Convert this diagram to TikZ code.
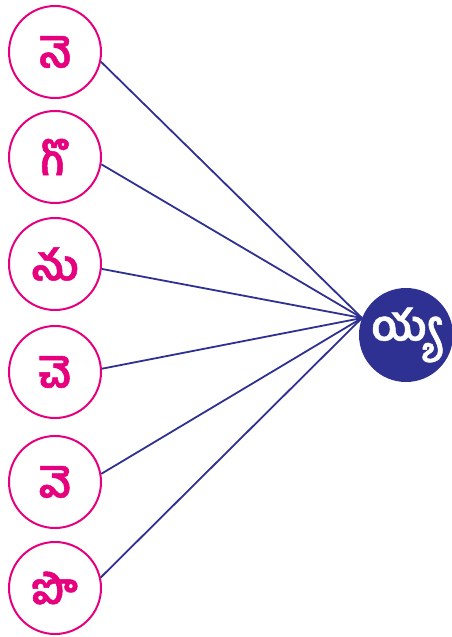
\documentclass[tikz,border=0pt]{standalone}
\usepackage{fontspec}
\newfontfamily\telugu[Script=Telugu,FakeBold=1.2]{Hind Guntur}
\definecolor{pinkc}{HTML}{E6007E}
\definecolor{bluec}{HTML}{2E3192}
\begin{document}
\begin{tikzpicture}[x=1pt,y=-1pt,
  letter/.style={circle,draw=pinkc,line width=2pt,fill=white,minimum size=92pt,inner sep=0pt,text=pinkc,font=\telugu\fontsize{42}{42}\selectfont\bfseries},
  hubnode/.style={circle,fill=bluec,minimum size=94pt,inner sep=0pt,text=white,font=\telugu\fontsize{42}{42}\selectfont\bfseries},
  link/.style={draw=bluec,line width=1.8pt}]
\useasboundingbox (0,0) rectangle (452,637);
\node[hubnode] (hub) at (406,335) {య్య};
\coordinate (meet) at (362,318);
\node[letter] (a) at (55,52) {నె};
\node[letter] (b) at (55,157) {గొ};
\node[letter] (c) at (55,264) {ను};
\node[letter] (d) at (55,372) {చె};
\node[letter] (e) at (55,482) {వె};
\node[letter] (f) at (55,588) {పొ};
\draw[link] (a.-12) -- (meet);
\draw[link] (b.-9) -- (meet);
\draw[link] (c.-6) -- (meet);
\draw[link] (d.4) -- (meet);
\draw[link] (e.10) -- (meet);
\draw[link] (f.13) -- (meet);
\end{tikzpicture}
\end{document}
